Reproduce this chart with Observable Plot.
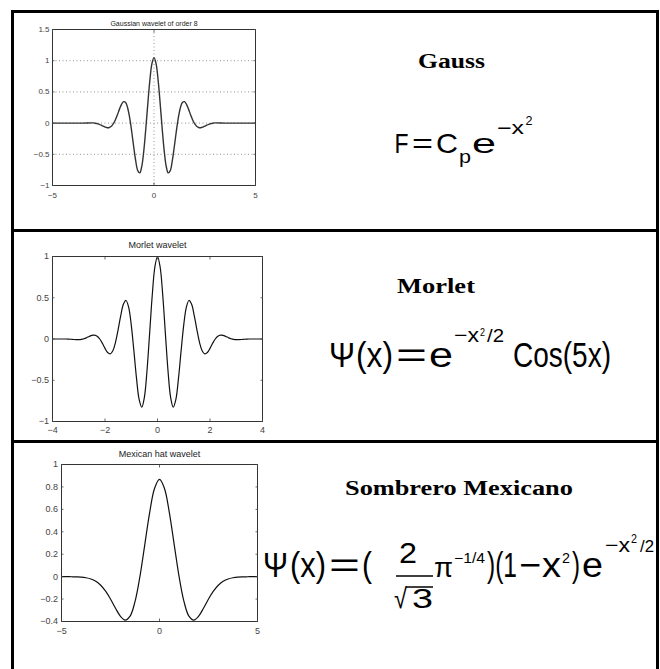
<!DOCTYPE html>
<html><head><meta charset="utf-8">
<script src="https://cdn.jsdelivr.net/npm/d3@7"></script>
<script src="https://cdn.jsdelivr.net/npm/@observablehq/plot@0.6"></script>
<style>
html,body{margin:0;padding:0;background:#fff;}
#page{position:relative;width:660px;height:669px;overflow:hidden;background:#fff;}
.rule{position:absolute;background:#000;z-index:5;}
</style></head><body><div id="page"></div>
<script>
// ---------- data ----------
const titles = ["Gaussian wavelet of order 8", "Morlet wavelet", "Mexican hat wavelet"];
const names = ["Gauss", "Morlet", "Sombrero Mexicano"];

const gaussX = [-5, -4, -3.5, -3.0, -2.9, -2.8, -2.7, -2.6, -2.5, -2.4, -2.3, -2.2, -2.1, -2.0, -1.9, -1.8, -1.7, -1.6, -1.5, -1.4, -1.3, -1.2, -1.1, -1.0, -0.9, -0.8, -0.7, -0.6, -0.5, -0.4, -0.3, -0.2, -0.1, 0, 0.1, 0.2, 0.3, 0.4, 0.5, 0.6, 0.7, 0.8, 0.9, 1.0, 1.1, 1.2, 1.3, 1.4, 1.5, 1.6, 1.7, 1.8, 1.9, 2.0, 2.1, 2.2, 2.3, 2.4, 2.5, 2.6, 2.7, 2.8, 2.9, 3.0, 3.5, 4, 5];
const gaussY = [0, 0, 0, 0.003, -0.002, -0.009, -0.020, -0.034, -0.050, -0.065, -0.074, -0.071, -0.051, -0.010, 0.054, 0.135, 0.224, 0.300, 0.344, 0.331, 0.247, 0.088, -0.131, -0.379, -0.607, -0.762, -0.798, -0.689, -0.436, -0.075, 0.329, 0.699, 0.957, 1.05, 0.957, 0.699, 0.329, -0.075, -0.436, -0.689, -0.798, -0.762, -0.607, -0.379, -0.131, 0.088, 0.247, 0.331, 0.344, 0.300, 0.224, 0.135, 0.054, -0.010, -0.051, -0.071, -0.074, -0.065, -0.050, -0.034, -0.020, -0.009, -0.002, 0.003, 0, 0, 0];
const gaussXTicks = [-5, 0, 5];
const gaussYTicks = [-1, -0.5, 0, 0.5, 1, 1.5];

const morletX = [-4, -3.5, -3.4, -3.3, -3.2, -3.1, -3.0, -2.9, -2.8, -2.7, -2.6, -2.5, -2.4, -2.3, -2.2, -2.1, -2.0, -1.9, -1.8, -1.7, -1.6, -1.5, -1.4, -1.3, -1.2, -1.1, -1.0, -0.9, -0.8, -0.7, -0.6, -0.5, -0.4, -0.3, -0.2, -0.1, 0, 0.1, 0.2, 0.3, 0.4, 0.5, 0.6, 0.7, 0.8, 0.9, 1.0, 1.1, 1.2, 1.3, 1.4, 1.5, 1.6, 1.7, 1.8, 1.9, 2.0, 2.1, 2.2, 2.3, 2.4, 2.5, 2.6, 2.7, 2.8, 2.9, 3.0, 3.1, 3.2, 3.3, 3.4, 3.5, 4];
const morletY = [0, 0, -0.001, -0.003, -0.006, -0.008, -0.008, -0.005, 0.003, 0.016, 0.031, 0.044, 0.047, 0.034, 0.000, -0.052, -0.114, -0.164, -0.180, -0.142, -0.040, 0.113, 0.283, 0.420, 0.467, 0.387, 0.172, -0.141, -0.475, -0.733, -0.827, -0.707, -0.384, 0.068, 0.530, 0.873, 1, 0.873, 0.530, 0.068, -0.384, -0.707, -0.827, -0.733, -0.475, -0.141, 0.172, 0.387, 0.467, 0.420, 0.283, 0.113, -0.040, -0.142, -0.180, -0.164, -0.114, -0.052, 0.000, 0.034, 0.047, 0.044, 0.031, 0.016, 0.003, -0.005, -0.008, -0.008, -0.006, -0.003, -0.001, 0, 0];
const morletXTicks = [-4, -2, 0, 2, 4];
const morletYTicks = [-1, -0.5, 0, 0.5, 1];

const mexX = [-5, -4.75, -4.5, -4.25, -4, -3.75, -3.5, -3.25, -3, -2.75, -2.5, -2.25, -2, -1.75, -1.5, -1.25, -1, -0.75, -0.5, -0.25, 0, 0.25, 0.5, 0.75, 1, 1.25, 1.5, 1.75, 2, 2.25, 2.5, 2.75, 3, 3.25, 3.5, 3.75, 4, 4.25, 4.5, 4.75, 5];
const mexY = [0, 0, -0.001, -0.002, -0.004, -0.010, -0.021, -0.042, -0.077, -0.130, -0.200, -0.280, -0.352, -0.387, -0.352, -0.223, 0, 0.286, 0.574, 0.788, 0.867, 0.788, 0.574, 0.286, 0, -0.223, -0.352, -0.387, -0.352, -0.280, -0.200, -0.130, -0.077, -0.042, -0.021, -0.010, -0.004, -0.002, -0.001, 0, 0];
const mexXTicks = [-5, 0, 5];
const mexYTicks = [-0.4, -0.2, 0, 0.2, 0.4, 0.6, 0.8, 1];

// ---------- drawing ----------
const page = document.getElementById("page");
const fmt = d3.format("");
const sans = "'Liberation Sans', Arial, Helvetica, sans-serif";

function panel(cfg) {
  const data = cfg.xs.map((x, i) => ({x, y: cfg.ys[i]}));
  const marks = [];
  if (cfg.grid) {
    const g = {stroke: "#777", strokeOpacity: 1, strokeDasharray: "1,2.5", strokeWidth: 0.8};
    marks.push(Plot.gridY(cfg.yTicks, g));
    marks.push(Plot.gridX(cfg.xTicks, g));
  }
  marks.push(Plot.line(data, {x: "x", y: "y", curve: "catmull-rom", stroke: cfg.lineColor, strokeWidth: cfg.lineWidth}));
  marks.push(Plot.frame({stroke: "#333", strokeWidth: 1}));
  const ax = {color: "#444", label: null, tickSize: -2.5, fontSize: cfg.tickFont, strokeWidth: 0.8};
  marks.push(Plot.axisX(cfg.xTicks, {...ax, anchor: "bottom", tickPadding: cfg.padX, tickFormat: fmt}));
  marks.push(Plot.axisX(cfg.xTicks, {...ax, anchor: "top", tickPadding: 0, tickFormat: () => ""}));
  marks.push(Plot.axisY(cfg.yTicks, {...ax, anchor: "left", tickPadding: cfg.padY, tickFormat: fmt}));
  marks.push(Plot.axisY(cfg.yTicks, {...ax, anchor: "right", tickPadding: 0, tickFormat: () => ""}));
  marks.push(Plot.text([cfg.title], {text: d => d, frameAnchor: "top", dy: cfg.titleDy, lineAnchor: "middle", fontSize: cfg.titleSize, fill: "#222"}));
  const svg = Plot.plot({
    width: cfg.w, height: cfg.h,
    marginLeft: cfg.ml, marginRight: cfg.mr, marginTop: cfg.mt, marginBottom: cfg.mb,
    x: {domain: cfg.xDomain}, y: {domain: cfg.yDomain},
    style: {background: "transparent", fontFamily: sans, overflow: "visible"},
    marks
  });
  svg.style.position = "absolute";
  svg.style.left = "0px";
  svg.style.top = cfg.top + "px";
  page.appendChild(svg);
}

panel({xs: gaussX, ys: gaussY, xDomain: [-5, 5], yDomain: [-1, 1.5], xTicks: gaussXTicks, yTicks: gaussYTicks,
  title: titles[0], titleSize: 7, titleDy: -6, tickFont: 8, grid: true,
  top: 0, w: 300, h: 225, ml: 52, mr: 45, mt: 29, mb: 40, padX: 9.5, padY: 5.5, lineColor: "#333", lineWidth: 1.4});
panel({xs: morletX, ys: morletY, xDomain: [-4, 4], yDomain: [-1, 1], xTicks: morletXTicks, yTicks: morletYTicks,
  title: titles[1], titleSize: 9, titleDy: -11, tickFont: 9, grid: false,
  top: 231, w: 300, h: 215, ml: 52, mr: 38, mt: 25, mb: 25, padX: 7.3, padY: 6, lineColor: "#111", lineWidth: 1.2});
panel({xs: mexX, ys: mexY, xDomain: [-5, 5], yDomain: [-0.4, 1], xTicks: mexXTicks, yTicks: mexYTicks,
  title: titles[2], titleSize: 9, titleDy: -10, tickFont: 9, grid: false,
  top: 442, w: 300, h: 225, ml: 61, mr: 43, mt: 22, mb: 46, padX: 9, padY: 6, lineColor: "#111", lineWidth: 1.2});

// ---------- table rules ----------
function rule(l, t, w, h) {
  const d = document.createElement("div");
  d.className = "rule";
  Object.assign(d.style, {left: l + "px", top: t + "px", width: w + "px", height: h + "px"});
  page.appendChild(d);
}
rule(11, 9.5, 647.5, 3);     // top
rule(11, 9.5, 3, 700);       // left
rule(655.5, 9.5, 3, 700);    // right
rule(11, 228.5, 647.5, 3);   // divider 1
rule(11, 439.5, 647.5, 3);   // divider 2

// ---------- names and formulas (real text) ----------
const ov = d3.create("svg").attr("width", 660).attr("height", 669)
  .style("position", "absolute").style("left", "0px").style("top", "0px");
page.appendChild(ov.node());
function put(t, x, y, size, w, opt = {}) {
  const e = ov.append("text").attr("x", 0).attr("y", 0).attr("font-size", size)
    .attr("font-family", opt.serif ? "'Liberation Serif', 'Times New Roman', serif" : sans)
    .attr("font-weight", opt.serif ? "bold" : null).attr("fill", "#000").text(t);
  const nat = e.node().getComputedTextLength() || w;
  const sx = w / nat;
  e.attr("transform", `translate(${x},${y}) scale(${sx.toFixed(4)},1)`);
}
// names
put(names[0], 418, 68, 22, 67, {serif: true});
put(names[1], 397, 293, 22, 78, {serif: true});
put(names[2], 345, 495, 22, 228, {serif: true});
// Gauss formula
put("F", 394.5, 153, 28, 14);
put("=", 412, 153, 28, 21);
put("C", 436, 153, 28, 22);
put("p", 459, 163, 18, 12);
put("e", 472, 153, 28, 24);
put("\u2212x", 497, 134, 18, 27);
put("2", 525.5, 125, 13, 7);
// Morlet formula
put("\u03A8", 329, 367, 35, 26);
put("(x)", 356, 367, 35, 37);
put("=", 396, 367, 35, 31);
put("e", 429, 367, 35, 24);
put("\u2212x", 454, 342, 20, 25);
put("2", 480, 336, 11, 5);
put("/2", 487, 342, 18, 17);
put("Cos(5x)", 513, 367, 35, 98);
// Sombrero formula
put("\u03A8", 263, 577, 35, 25);
put("(x)", 290, 577, 35, 36);
put("=", 329, 577, 35, 31);
put("(", 362, 577, 35, 10);
put("2", 399, 563, 30, 18);
put("\u221A", 394, 608, 28, 13);
put("3", 412, 608, 28, 21);
put("\u03C0", 434, 577, 28, 19);
put("\u22121/4", 454, 563, 14, 31);
put(")(1", 487, 577, 35, 30);
put("\u2212", 519, 577, 35, 22);
put("x", 542, 577, 35, 19);
put("2", 562, 563, 14, 8);
put(")", 572, 577, 35, 8);
put("e", 582, 577, 35, 21);
put("\u2212x", 605, 552, 20, 25);
put("2", 631, 543, 12, 6);
put("/2", 640, 552, 17, 14);
ov.append("line").attr("x1", 396).attr("x2", 433).attr("y1", 576).attr("y2", 576).attr("stroke", "#000").attr("stroke-width", 1.5);
ov.append("line").attr("x1", 406).attr("x2", 433).attr("y1", 587).attr("y2", 587).attr("stroke", "#000").attr("stroke-width", 1.5);
</script></body></html>
